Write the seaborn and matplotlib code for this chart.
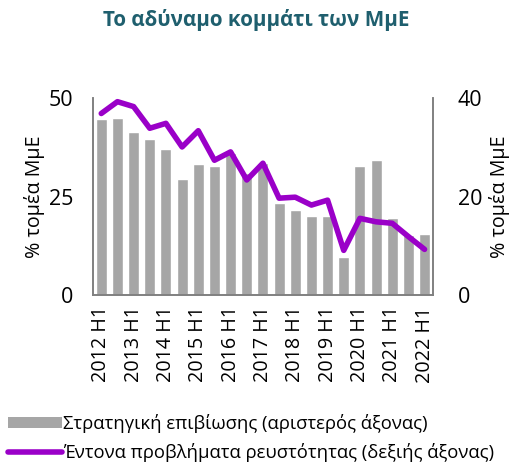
import numpy as np
import pandas as pd
import matplotlib
matplotlib.use("Agg")
import matplotlib.pyplot as plt
import seaborn as sns
from matplotlib.patches import Patch
from matplotlib.lines import Line2D

# Half-year periods 2012 H1 .. 2022 H1
periods = [f"{y} H{h}" for y in range(2012, 2023) for h in (1, 2)][:21]
tick_labels = [f"{y} H1" for y in range(2012, 2023)]

# Strategic survival (left axis, % of SMEs)
survival = [44.6, 44.9, 41.5, 39.7, 37.1, 29.4, 33.2, 32.7, 36.2, 31.0,
            33.5, 23.4, 21.6, 20.1, 20.1, 9.7, 32.9, 34.2, 19.5, 15.2, 15.5]
# Severe liquidity problems (right axis, % of SMEs)
liquidity = [36.9, 39.3, 38.3, 33.9, 34.9, 30.1, 33.4, 27.4, 29.1, 23.4,
             26.8, 19.7, 19.9, 18.3, 19.3, 9.1, 15.6, 14.9, 14.6, 11.9, 9.3]

bar_color = "#a6a6a6"
line_color = "#9a00c8"
grey = "#808080"

sns.set_theme(style="white")
plt.rcParams["font.family"] = ["Open Sans", "DejaVu Sans"]
plt.rcParams["text.color"] = "black"
plt.rcParams["axes.labelcolor"] = "black"
plt.rcParams["xtick.color"] = "black"
plt.rcParams["ytick.color"] = "black"

df = pd.DataFrame({"period": periods, "survival": survival, "liquidity": liquidity})

fig = plt.figure(figsize=(5.12, 4.70), dpi=100)
ax = fig.add_axes([0.182, 0.372, 0.663, 0.419])

sns.barplot(data=df, x="period", y="survival", color=bar_color, width=0.68,
            saturation=1, ax=ax)
ax.set_ylim(0, 50)
ax.set_yticks([0, 25, 50])
ax.set_xticks(range(0, len(periods), 2))
ax.set_xticklabels(tick_labels, rotation=90, fontsize=14.2)
ax.tick_params(axis="y", labelsize=15.5, length=0, pad=14)
ax.tick_params(axis="x", length=0, pad=8)
ax.set_xlabel("")
ax.set_ylabel("% τομέα ΜμΕ", fontsize=14.2, labelpad=3)

ax2 = ax.twinx()
sns.lineplot(x=np.arange(len(periods)), y=df["liquidity"], color=line_color,
             linewidth=4, ax=ax2, sort=False)
ax2.lines[0].set_solid_joinstyle("round")
ax2.lines[0].set_solid_capstyle("round")
ax2.set_ylim(0, 40)
ax2.set_yticks([0, 20, 40])
ax2.tick_params(axis="y", labelsize=15.5, length=0, pad=18)
ax2.set_ylabel("% τομέα ΜμΕ", fontsize=14.2, labelpad=5, rotation=90)
ax.set_xlim(-0.5, len(periods) - 0.5)

for a in (ax, ax2):
    a.spines["top"].set_visible(False)
    for side in ("left", "right", "bottom"):
        a.spines[side].set_color(grey)
        a.spines[side].set_linewidth(1.2)

fig.text(0.5, 0.957, "Το αδύναμο κομμάτι των ΜμΕ", ha="center", va="center",
         fontsize=14.9, fontweight="bold", color="#1f5f6e")

handles = [Patch(facecolor=bar_color, edgecolor="none"),
           Line2D([0], [0], color=line_color, linewidth=4, solid_capstyle="round")]
labels = ["Στρατηγική επιβίωσης (αριστερός άξονας)",
          "Έντονα προβλήματα ρευστότητας (δεξιής άξονας)"]
fig.legend(handles, labels, loc="lower left", bbox_to_anchor=(0.0, 0.0),
           frameon=False, fontsize=13.3, handlelength=2.9, handleheight=0.55,
           handletextpad=0.08, labelspacing=0.5, borderaxespad=0.0,
           borderpad=0.45)

fig.savefig("out.png", dpi=100)
